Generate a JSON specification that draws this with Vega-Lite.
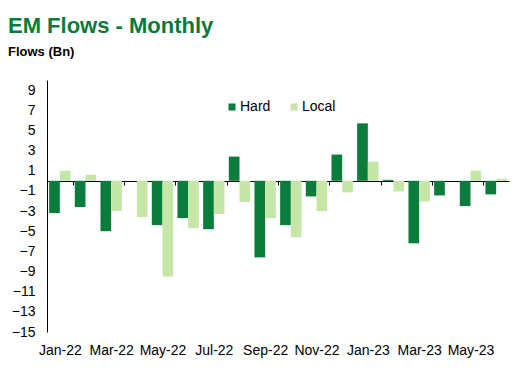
{
  "$schema": "https://vega.github.io/schema/vega-lite/v6.json",
  "width": 462,
  "height": 252,
  "autosize": {"type": "none"},
  "padding": {"left": 47, "top": 80, "right": 11, "bottom": 40},
  "background": "white",
  "title": {
    "text": "EM Flows - Monthly",
    "subtitle": "Flows (Bn)",
    "anchor": "start",
    "frame": "group",
    "dx": -39,
    "offset": 20,
    "font": "Liberation Sans",
    "fontSize": 22,
    "fontWeight": "bold",
    "color": "#0a7a3b",
    "subtitleFont": "Liberation Sans",
    "subtitleFontSize": 13,
    "subtitleFontWeight": "bold",
    "subtitleColor": "#000000",
    "subtitlePadding": 8
  },
  "data": {
    "values": [
      {"month": "Jan-22", "type": "Hard", "value": -3.2},
      {"month": "Jan-22", "type": "Local", "value": 1.0},
      {"month": "Feb-22", "type": "Hard", "value": -2.6},
      {"month": "Feb-22", "type": "Local", "value": 0.6},
      {"month": "Mar-22", "type": "Hard", "value": -5.0},
      {"month": "Mar-22", "type": "Local", "value": -3.0},
      {"month": "Apr-22", "type": "Hard", "value": 0.0},
      {"month": "Apr-22", "type": "Local", "value": -3.6},
      {"month": "May-22", "type": "Hard", "value": -4.4},
      {"month": "May-22", "type": "Local", "value": -9.5},
      {"month": "Jun-22", "type": "Hard", "value": -3.7},
      {"month": "Jun-22", "type": "Local", "value": -4.7},
      {"month": "Jul-22", "type": "Hard", "value": -4.8},
      {"month": "Jul-22", "type": "Local", "value": -3.3},
      {"month": "Aug-22", "type": "Hard", "value": 2.4},
      {"month": "Aug-22", "type": "Local", "value": -2.1},
      {"month": "Sep-22", "type": "Hard", "value": -7.6},
      {"month": "Sep-22", "type": "Local", "value": -3.7},
      {"month": "Oct-22", "type": "Hard", "value": -4.4},
      {"month": "Oct-22", "type": "Local", "value": -5.6},
      {"month": "Nov-22", "type": "Hard", "value": -1.55},
      {"month": "Nov-22", "type": "Local", "value": -3.0},
      {"month": "Dec-22", "type": "Hard", "value": 2.6},
      {"month": "Dec-22", "type": "Local", "value": -1.15},
      {"month": "Jan-23", "type": "Hard", "value": 5.7},
      {"month": "Jan-23", "type": "Local", "value": 1.9},
      {"month": "Feb-23", "type": "Hard", "value": 0.1},
      {"month": "Feb-23", "type": "Local", "value": -1.05},
      {"month": "Mar-23", "type": "Hard", "value": -6.2},
      {"month": "Mar-23", "type": "Local", "value": -2.05},
      {"month": "Apr-23", "type": "Hard", "value": -1.45},
      {"month": "Apr-23", "type": "Local", "value": 0.0},
      {"month": "May-23", "type": "Hard", "value": -2.5},
      {"month": "May-23", "type": "Local", "value": 1.0},
      {"month": "Jun-23", "type": "Hard", "value": -1.35},
      {"month": "Jun-23", "type": "Local", "value": 0.2}
    ]
  },
  "mark": {"type": "bar"},
  "encoding": {
    "x": {
      "field": "month",
      "type": "ordinal",
      "sort": null,
      "scale": {"paddingInner": 0, "paddingOuter": 0},
      "axis": {
        "title": null,
        "values": ["Jan-22", "Mar-22", "May-22", "Jul-22", "Sep-22", "Nov-22", "Jan-23", "Mar-23", "May-23"],
        "tickBand": "extent",
        "offset": -151,
        "domainColor": "#000000",
        "domainWidth": 1,
        "tickColor": "#000000",
        "tickSize": 4,
        "labelAngle": 0,
        "labelPadding": 158,
        "labelFont": "Liberation Sans",
        "labelFontSize": 14,
        "labelColor": "#000000",
        "grid": false
      }
    },
    "xOffset": {
      "field": "type",
      "sort": ["Hard", "Local"],
      "scale": {"paddingInner": 0, "paddingOuter": 0.2}
    },
    "y": {
      "field": "value",
      "type": "quantitative",
      "scale": {"domain": [-15, 10], "nice": false, "zero": false},
      "axis": {
        "title": null,
        "values": [-15, -13, -11, -9, -7, -5, -3, -1, 1, 3, 5, 7, 9],
        "grid": false,
        "ticks": false,
        "domainColor": "#000000",
        "domainWidth": 1,
        "labelPadding": 12,
        "labelFont": "Liberation Sans",
        "labelFontSize": 14,
        "labelColor": "#000000"
      }
    },
    "color": {
      "field": "type",
      "type": "nominal",
      "scale": {"domain": ["Hard", "Local"], "range": ["#0a7d3c", "#c6e6a8"]},
      "legend": {
        "title": null,
        "orient": "none",
        "legendX": 178,
        "legendY": 20,
        "direction": "horizontal",
        "symbolType": "square",
        "symbolSize": 50,
        "symbolStrokeWidth": 0,
        "labelFont": "Liberation Sans",
        "labelFontSize": 14,
        "labelColor": "#000000",
        "labelOffset": 1,
        "columnPadding": 16
      }
    }
  },
  "config": {"view": {"stroke": null}}
}
